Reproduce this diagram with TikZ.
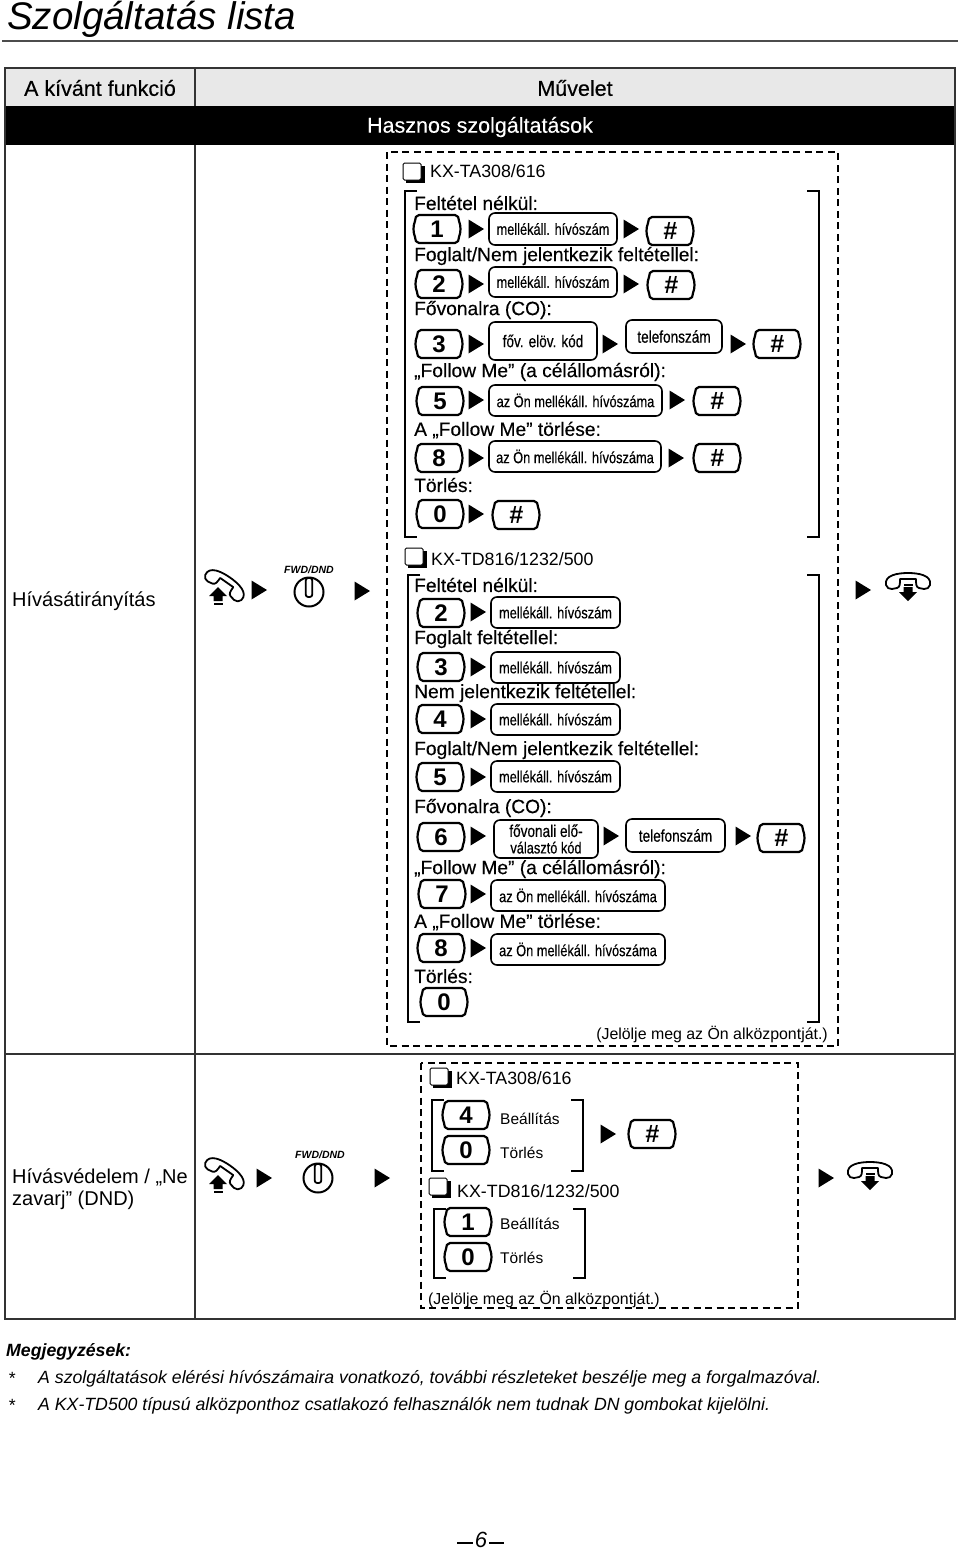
\documentclass[tikz,border=0pt]{standalone}
\usepackage{fontspec}
\setmainfont{Liberation Sans}
\newfontfamily\semif[FakeBold=0.3]{Liberation Sans}
\newfontfamily\narrowf[FakeStretch=0.8,FakeBold=0.4]{Liberation Sans}
\definecolor{headgray}{gray}{0.91}
\newcommand{\bigtxt}{\fontsize{17}{17.5}\selectfont}
\tikzset{
 lab/.style={anchor=west,inner sep=0pt,yshift=-1pt,font=\semif\fontsize{19.2}{19.2}\selectfont},
 plain/.style={anchor=west,inner sep=0pt,yshift=-1pt,font=\fontsize{17.8}{17.8}\selectfont},
 small/.style={anchor=west,inner sep=0pt,yshift=-1pt,font=\fontsize{15.5}{15.5}\selectfont},
 note/.style={anchor=west,inner sep=0pt,yshift=-1.5pt,font=\itshape\fontsize{17.7}{17.7}\selectfont},
 tbl/.style={line width=1.1pt,draw=black!80},
 dashbox/.style={line width=1.5pt,dash pattern=on 7pt off 4.5pt},
 brk/.style={line width=1.4pt},
 ekey/.style={inner sep=0pt,font=\bfseries\fontsize{24}{24}\selectfont},
 hash/.style={inner sep=0pt,font=\bfseries\itshape\fontsize{25}{25}\selectfont},
 keyline/.style={line width=2.2pt,line join=round},
 ebox/.style={draw,line width=1.6pt,rounded corners=6pt,inner sep=0pt,align=center,
   font=\narrowf\fontsize{16}{16.5}\selectfont},
 tribit/.style={fill=black,draw=none},
 fwd/.style={inner sep=0pt,font=\bfseries\itshape\fontsize{10.5}{10.5}\selectfont},
 head/.style={inner sep=0pt,yshift=-1pt,font=\semif\fontsize{21.5}{21.5}\selectfont},
}
\newcommand{\keyb}[5][ekey]{%
 \node[#1] (#2) at (#3,#4) {#5};
 \draw[keyline] (#3-18,#4-14) -- (#3+18,#4-14) .. controls (#3+21,#4-14) and (#3+22,#4-11) .. (#3+22,#4-8)
   .. controls (#3+24,#4-3) and (#3+24,#4+3) .. (#3+22,#4+8)
   .. controls (#3+22,#4+11) and (#3+21,#4+14) .. (#3+18,#4+14) -- (#3-18,#4+14)
   .. controls (#3-21,#4+14) and (#3-22,#4+11) .. (#3-22,#4+8)
   .. controls (#3-24,#4+3) and (#3-24,#4-3) .. (#3-22,#4-8)
   .. controls (#3-22,#4-11) and (#3-21,#4-14) .. (#3-18,#4-14) -- cycle;}
\newcommand{\tribl}[2]{\fill[tribit] (#1-7.5,#2-9.5) -- (#1+8,#2) -- (#1-7.5,#2+9.5) -- cycle;}
\newcommand{\eb}[6]{\node[ebox,minimum width=#3-#2,minimum height=#5-#4] (#1) at ({(#2+#3)/2},{(#4+#5)/2}) {#6};}
\newcommand{\chk}[2]{%
 \fill (#1+3,#2+3) rectangle (#1+22,#2+20);
 \draw[line width=1pt,fill=white,rounded corners=1.5pt] (#1,#2) rectangle (#1+18,#2+17);}
\newcommand{\brkt}[4]{%
 \draw[brk] (#1+12,#3) -- (#1,#3) -- (#1,#4) -- (#1+12,#4);
 \draw[brk] (#2-12,#3) -- (#2,#3) -- (#2,#4) -- (#2-12,#4);}
\newcommand{\handset}[3]{%
 \begin{scope}[shift={(#1,#2)},rotate=#3]
 \draw[line width=1.8pt,fill=white,line join=round] (-22,3) .. controls (-24,-7) and (-10,-9) .. (0,-9)
   .. controls (10,-9) and (24,-7) .. (22,3) .. controls (21,6) and (19,7) .. (16,7) -- (11,6)
   .. controls (8,5) and (8,2) .. (8,-3) -- (-8,-3) .. controls (-8,2) and (-8,5) .. (-11,6) -- (-16,7)
   .. controls (-19,7) and (-21,6) .. (-22,3) -- cycle;
 \end{scope}}
\newcommand{\arrup}[2]{\fill (#1,#2-9) -- (#1+9,#2) -- (#1+4.5,#2) -- (#1+4.5,#2+5) -- (#1-4.5,#2+5) -- (#1-4.5,#2) -- (#1-9,#2) -- cycle; \fill (#1-4.5,#2+6.5) rectangle (#1+4.5,#2+8.5);}
\newcommand{\arrdn}[2]{\fill (#1,#2+9) -- (#1+9,#2) -- (#1+4.5,#2) -- (#1+4.5,#2-5) -- (#1-4.5,#2-5) -- (#1-4.5,#2) -- (#1-9,#2) -- cycle; \fill (#1-4.5,#2-6.5) rectangle (#1+4.5,#2-8.5);}
\newcommand{\power}[2]{%
 \draw[line width=2pt] (#1,#2) circle (14.5);
 \draw[line width=1.8pt,fill=white,rounded corners=2.5pt] (#1-3.3,#2+5) rectangle (#1+3.3,#2-14);}
\begin{document}
\begin{tikzpicture}[x=1pt,y=-1pt]
\useasboundingbox (0,0) rectangle (960,1551);
\fill[white] (0,0) rectangle (960,1551);
\node[anchor=west,inner sep=0pt,font=\itshape\fontsize{38.5}{38.5}\selectfont] (title) at (7,19) {Szolgáltatás lista};
\draw[line width=1.2pt,draw=black!70] (2,41) -- (958,41);
\fill[headgray] (5,68) rectangle (955,106);
\fill[black] (5,106) rectangle (955,145);
\draw[tbl] (5,68) rectangle (955,1319);
\draw[tbl] (195,68) -- (195,106);
\draw[tbl] (195,145) -- (195,1319);
\draw[tbl] (5,1054) -- (955,1054);
\node[head] (hA) at (100,87) {A kívánt funkció};
\node[head] (hB) at (575,87) {Művelet};
\node[head,text=white] (hC) at (480,126) {Hasznos szolgáltatások};
\node[anchor=west,inner sep=0pt,font=\fontsize{20}{20}\selectfont] (r1) at (12,601) {Hívásátirányítás};
\node[anchor=west,inner sep=0pt,align=left,font=\fontsize{20}{22}\selectfont] (r2) at (12,1189) {Hívásvédelem / „Ne\\zavarj” (DND)};
\handset{225}{585}{-35}\arrup{218}{596}
\tribl{259}{590}
\node[fwd] (f1) at (309,570) {FWD/DND};
\power{309}{592}
\tribl{362}{591}
\tribl{863}{590}
\handset{908}{582}{0}\arrdn{908}{592}
\draw[dashbox] (387,152) rectangle (838,1046);
\chk{403}{163}
\node[plain] (m1) at (430,170) {KX-TA308/616};
\brkt{405}{819}{191}{537}
\node[lab] (a1) at (414,202) {Feltétel nélkül:};
\keyb{ka1}{437}{229}{1}\tribl{476}{229}\eb{ba1}{489}{617}{213}{245}{mellékáll. hívószám}\tribl{631}{229}\keyb[hash]{ha1}{670}{231}{\#}
\node[lab] (a2) at (414,255) {Foglalt/Nem jelentkezik feltétellel:};
\keyb{ka2}{439}{284}{2}\tribl{476}{284}\eb{ba2}{489}{617}{267}{297}{mellékáll. hívószám}\tribl{631}{284}\keyb[hash]{ha2}{671}{285}{\#}
\node[lab] (a3) at (414,309) {Fővonalra (CO):};
\keyb{ka3}{439}{344}{3}\tribl{476}{344}\eb{ba3}{489}{597}{322}{360}{\bigtxt főv. elöv. kód}\tribl{610}{344}\eb{ba3b}{626}{722}{320}{353}{\bigtxt telefonszám}\tribl{738}{344}\keyb[hash]{ha3}{777}{344}{\#}
\node[lab] (a4) at (414,371) {„Follow Me” (a célállomásról):};
\keyb{ka4}{440}{401}{5}\tribl{476}{400}\eb{ba4}{489}{662}{385}{416}{az Ön mellékáll. hívószáma}\tribl{677}{400}\keyb[hash]{ha4}{717}{401}{\#}
\node[lab] (a5) at (414,429) {A „Follow Me” törlése:};
\keyb{ka5}{439}{458}{8}\tribl{476}{458}\eb{ba5}{489}{661}{441}{472}{az Ön mellékáll. hívószáma}\tribl{676}{458}\keyb[hash]{ha5}{717}{458}{\#}
\node[lab] (a6) at (414,484) {Törlés:};
\keyb{ka6}{440}{514}{0}\tribl{476}{514}\keyb[hash]{ha6}{516}{515}{\#}
\chk{405}{548}
\node[plain] (m2) at (431,558) {KX-TD816/1232/500};
\brkt{408}{819}{575}{1022}
\node[lab] (c1) at (414,584) {Feltétel nélkül:};
\keyb{kc1}{441}{613}{2}\tribl{478}{612}\eb{bc1}{491}{620}{597}{628}{mellékáll. hívószám}
\node[lab] (c2) at (414,638) {Foglalt feltétellel:};
\keyb{kc2}{441}{667}{3}\tribl{478}{667}\eb{bc2}{491}{620}{652}{683}{mellékáll. hívószám}
\node[lab] (c3) at (414,692) {Nem jelentkezik feltétellel:};
\keyb{kc3}{440}{719}{4}\tribl{478}{719}\eb{bc3}{491}{620}{704}{735}{mellékáll. hívószám}
\node[lab] (c4) at (414,749) {Foglalt/Nem jelentkezik feltétellel:};
\keyb{kc4}{440}{777}{5}\tribl{478}{777}\eb{bc4}{491}{620}{761}{792}{mellékáll. hívószám}
\node[lab] (c5) at (414,807) {Fővonalra (CO):};
\keyb{kc5}{441}{837}{6}\tribl{478}{836}\eb{bc5}{494}{598}{820}{858}{\bigtxt fővonali elő-\\választó kód}\tribl{611}{836}\eb{bc5b}{626}{725}{819}{852}{\bigtxt telefonszám}\tribl{743}{836}\keyb[hash]{hc5}{781}{838}{\#}
\node[lab] (c6) at (414,868) {„Follow Me” (a célállomásról):};
\keyb{kc6}{442}{894}{7}\tribl{478}{894}\eb{bc6}{491}{665}{880}{911}{az Ön mellékáll. hívószáma}
\node[lab] (c7) at (414,921) {A „Follow Me” törlése:};
\keyb{kc7}{441}{948}{8}\tribl{478}{948}\eb{bc7}{491}{665}{934}{965}{az Ön mellékáll. hívószáma}
\node[lab] (c8) at (414,975) {Törlés:};
\keyb{kc8}{444}{1002}{0}
\node[anchor=east,inner sep=0pt,yshift=-1pt,font=\fontsize{15.9}{15.9}\selectfont] (j1) at (828,1033) {(Jelölje meg az Ön alközpontját.)};
\handset{225}{1173}{-35}\arrup{218}{1184}
\tribl{264}{1178}
\node[fwd] (f2) at (320,1155) {FWD/DND};
\power{318}{1178}
\tribl{382}{1178}
\tribl{826}{1178}
\handset{870}{1171}{0}\arrdn{870}{1181}
\draw[dashbox] (421,1063) rectangle (798,1308);
\chk{430}{1068}
\node[plain] (m3) at (456,1077) {KX-TA308/616};
\brkt{432}{583}{1100}{1171}
\keyb{kd1}{466}{1115}{4}\node[small] (d1) at (500,1118) {Beállítás};
\keyb{kd2}{466}{1150}{0}\node[small] (d2) at (500,1152) {Törlés};
\tribl{608}{1134}\keyb[hash]{hd}{652}{1134}{\#}
\chk{429}{1178}
\node[plain] (m4) at (457,1190) {KX-TD816/1232/500};
\brkt{434}{585}{1209}{1278}
\keyb{kd3}{468}{1222}{1}\node[small] (d3) at (500,1223) {Beállítás};
\keyb{kd4}{468}{1257}{0}\node[small] (d4) at (500,1257) {Törlés};
\node[anchor=west,inner sep=0pt,yshift=-1pt,font=\fontsize{15.9}{15.9}\selectfont] (j2) at (428,1298) {(Jelölje meg az Ön alközpontját.)};
\node[anchor=west,inner sep=0pt,yshift=-1.5pt,font=\bfseries\itshape\fontsize{17.7}{17.7}\selectfont] (n0) at (6,1350) {Megjegyzések:};
\node[note] (s1) at (8,1377) {*};
\node[note] (n1) at (38,1377) {A szolgáltatások elérési hívószámaira vonatkozó, további részleteket beszélje meg a forgalmazóval.};
\node[note] (s2) at (8,1404) {*};
\node[note] (n2) at (38,1404) {A KX-TD500 típusú alközponthoz csatlakozó felhasználók nem tudnak DN gombokat kijelölni.};
\node[inner sep=0pt,font=\itshape\fontsize{22}{22}\selectfont] (pg) at (481,1540) {6};
\draw[line width=2.4pt] (457,1543) -- (473,1543);
\draw[line width=2.4pt] (489,1543) -- (504,1543);
\end{tikzpicture}
\end{document}
